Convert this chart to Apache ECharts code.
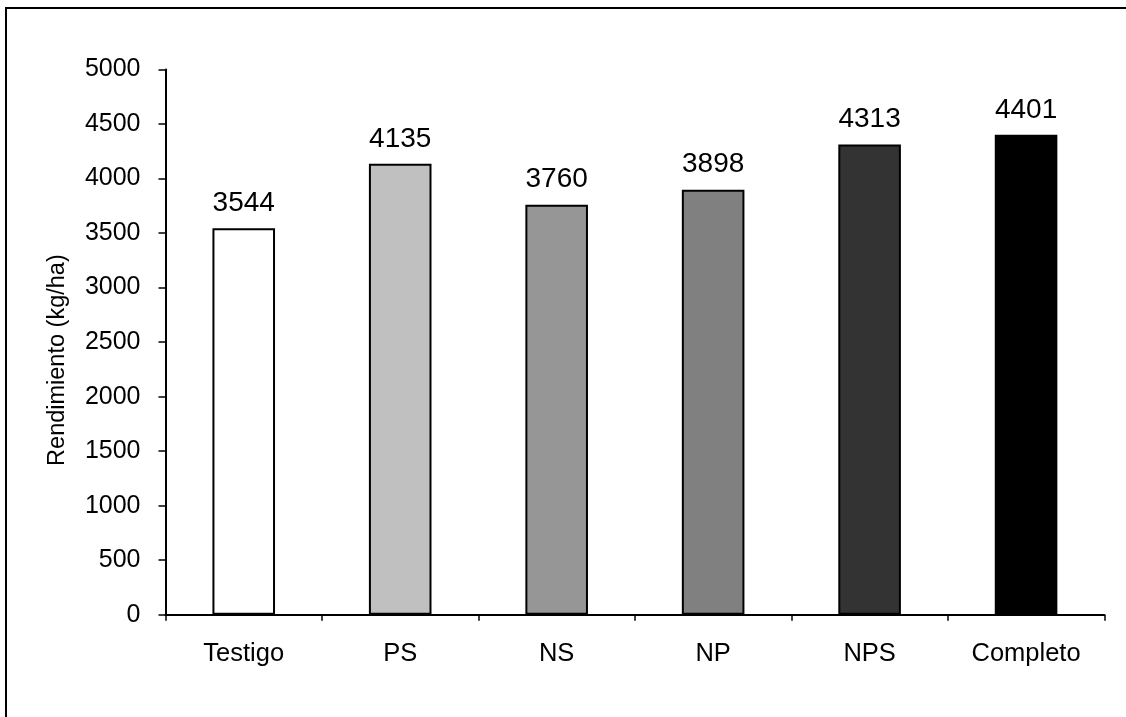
<!DOCTYPE html>
<html>
<head>
<meta charset="utf-8">
<script src="https://cdn.jsdelivr.net/npm/echarts@6/dist/echarts.min.js"></script>
<style>
  html, body { margin: 0; padding: 0; background: #fff; }
  #chart { width: 1126px; height: 717px; }
</style>
</head>
<body>
<div id="chart"></div>
<script>
// Rendimiento por tratamiento de fertilización
const categories = ['Testigo', 'PS', 'NS', 'NP', 'NPS', 'Completo'];
const yields = [3544, 4135, 3760, 3898, 4313, 4401];
const barColors = ['#FFFFFF', '#C0C0C0', '#969696', '#808080', '#333333', '#000000'];
const yTitle = 'Rendimiento (kg/ha)';

const font = '"Liberation Sans", Arial, sans-serif';

const chart = echarts.init(document.getElementById('chart'), null, { renderer: 'canvas' });

chart.setOption({
  backgroundColor: '#ffffff',
  animation: false,
  graphic: [{
    type: 'rect',
    shape: { x: 6, y: 8, width: 1300, height: 900 },
    style: { fill: 'none', stroke: '#000', lineWidth: 2 },
    silent: true,
    z: 100
  }],
  grid: { left: 165.5, right: 21.7, top: 69.5, bottom: 102.3, containLabel: false },
  xAxis: {
    type: 'category',
    data: categories,
    boundaryGap: true,
    axisLine: { show: true, lineStyle: { color: '#000', width: 2 } },
    axisTick: { show: true, inside: false, length: 6, alignWithLabel: false, lineStyle: { color: '#000', width: 1.5 } },
    axisLabel: { color: '#000', fontFamily: font, fontSize: 25.5, margin: 26 },
    splitLine: { show: false }
  },
  yAxis: {
    type: 'value',
    min: 0,
    max: 5000,
    interval: 500,
    name: yTitle,
    nameLocation: 'middle',
    nameGap: 96,
    nameTextStyle: { color: '#000', fontFamily: font, fontSize: 23.5, padding: [0, 36, 0, 0] },
    axisLine: { show: true, lineStyle: { color: '#000', width: 2 } },
    axisTick: { show: true, inside: false, length: 7, lineStyle: { color: '#000', width: 1.5 } },
    axisLabel: {
      color: '#000', fontFamily: font, fontSize: 25, margin: 25,
      formatter: v => String(v)
    },
    splitLine: { show: false }
  },
  series: [{
    type: 'bar',
    barCategoryGap: '60%',
    data: yields.map((v, i) => ({
      value: v,
      itemStyle: { color: barColors[i], borderColor: '#000', borderWidth: 2 }
    })),
    label: {
      show: true,
      position: 'top',
      distance: 11,
      color: '#000',
      fontFamily: font,
      fontSize: 28
    }
  }]
});
</script>
</body>
</html>
